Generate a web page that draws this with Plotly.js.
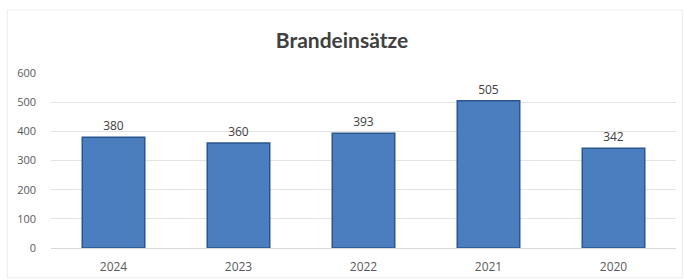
<!DOCTYPE html>
<html><head><meta charset="utf-8">
<script src="https://cdn.plot.ly/plotly-3.0.1.min.js"></script>
<style>html,body{margin:0;padding:0;background:#fff}#c{width:684px;height:280px}</style>
</head><body><div id="c"></div>
<script>
const years = ["2024", "2023", "2022", "2021", "2020"];
const einsaetze = [380, 360, 393, 505, 342];
const yTicks = [0, 100, 200, 300, 400, 500, 600];

Plotly.newPlot('c', [{
  type: 'bar', x: years, y: einsaetze, width: 0.5,
  marker: {color: '#4a7ebf', line: {color: '#2a568e', width: 1.5}},
  text: einsaetze.map(String), textposition: 'outside', cliponaxis: false,
  textfont: {family: 'Open Sans, Liberation Sans, sans-serif', size: 12, color: '#404040'},
  hoverinfo: 'none'
}], {
  width: 684, height: 280,
  margin: {l: 51, r: 8, t: 73, b: 32},
  paper_bgcolor: '#ffffff', plot_bgcolor: '#ffffff',
  title: {text: '<b>Brandeinsätze</b>', x: 0.5, xanchor: 'center', y: 0.855, yanchor: 'middle',
    font: {family: 'Lato, Open Sans, sans-serif', size: 21, color: '#404040'}},
  xaxis: {type: 'category', showgrid: false, showline: true, linecolor: '#d9d9d9', ticks: '',
    ticklabelstandoff: 8,
    tickfont: {family: 'Open Sans, sans-serif', size: 12, color: '#595959'}},
  yaxis: {range: [0, 600], tickvals: yTicks, showgrid: true, gridcolor: '#e3e3e3', zeroline: false,
    ticks: '', ticklabelstandoff: 14,
    tickfont: {family: 'Open Sans, sans-serif', size: 11, color: '#595959'}},
  shapes: [{type: 'rect', xref: 'paper', yref: 'paper', x0: -0.07, x1: 1.01, y0: -0.17, y1: 1.36,
    line: {color: '#ececec', width: 1}}],
  showlegend: false
}, {displayModeBar: false, staticPlot: true});
</script></body></html>
